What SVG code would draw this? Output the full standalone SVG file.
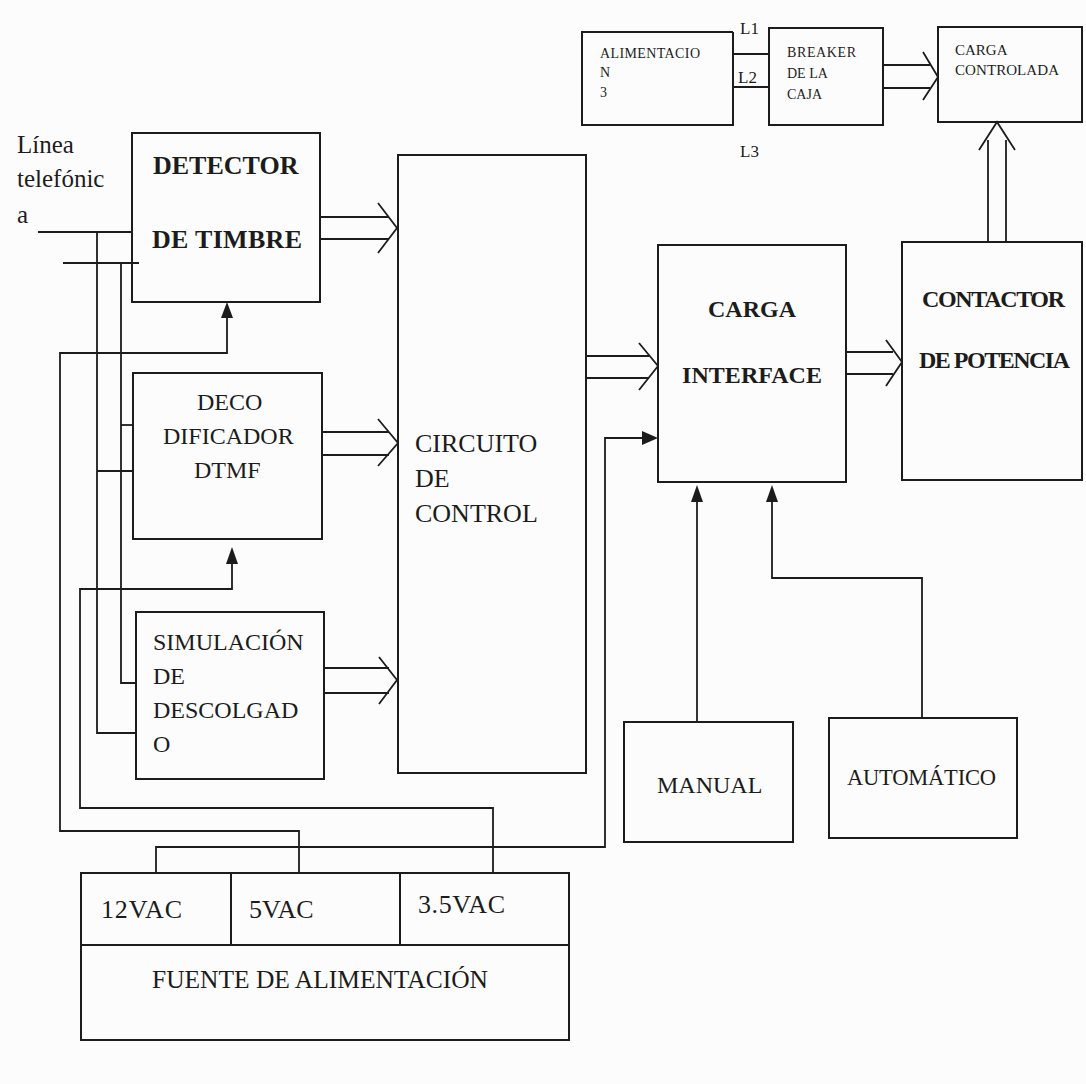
<svg xmlns="http://www.w3.org/2000/svg" width="1086" height="1084" viewBox="0 0 1086 1084">
<defs>
<style>
.box{fill:none;stroke:#1c1c1c;stroke-width:2}
.w{fill:none;stroke:#1c1c1c;stroke-width:1.8}
.t{font-family:"Liberation Serif","Times New Roman",serif;fill:#1c1c1c;font-size:24px}
.b{font-weight:bold}
.s{font-size:14px}
.m{font-size:26px}
.l{font-size:17px}
.head{fill:#1c1c1c;stroke:none}
</style>
</defs>
<rect x="0" y="0" width="1086" height="1084" fill="#fcfcfc"/>

<g id="alimentacion3">
<path class="box" d="M733,32 H582 V125 H733 V32"/>
<text class="t s" x="600" y="58" textLength="100">ALIMENTACIO</text>
<text class="t s" x="600" y="77">N</text>
<text class="t s" x="600" y="97">3</text>
</g>
<g id="breaker">
<rect class="box" x="769" y="28" width="114" height="97"/>
<text class="t s" x="787" y="57" textLength="69">BREAKER</text>
<text class="t s" x="787" y="78">DE LA</text>
<text class="t s" x="787" y="99">CAJA</text>
</g>
<g id="carga-controlada">
<rect class="box" x="938" y="27" width="144" height="95"/>
<text class="t s" x="955" y="55" style="font-size:15px">CARGA</text>
<text class="t s" x="955" y="75" style="font-size:15px" textLength="104">CONTROLADA</text>
</g>
<g id="linea">
<text class="t" x="17" y="153" style="font-size:25px">Línea</text>
<text class="t" x="17" y="187" style="font-size:25px">telefónic</text>
<text class="t" x="17" y="223" style="font-size:25px">a</text>
</g>
<g id="detector">
<rect class="box" x="132" y="133" width="188" height="169"/>
<text class="t b" x="153" y="174" style="font-size:26px">DETECTOR</text>
<text class="t b" x="152" y="248" style="font-size:26px" textLength="150">DE TIMBRE</text>
</g>
<g id="decodificador">
<rect class="box" x="133" y="373" width="189" height="166"/>
<text class="t" x="197" y="410">DECO</text>
<text class="t" x="163" y="444">DIFICADOR</text>
<text class="t" x="194" y="478">DTMF</text>
</g>
<g id="simulacion">
<rect class="box" x="136" y="612" width="188" height="167"/>
<text class="t" x="153" y="650">SIMULACIÓN</text>
<text class="t" x="153" y="684">DE</text>
<text class="t" x="153" y="718">DESCOLGAD</text>
<text class="t" x="153" y="752">O</text>
</g>
<g id="circuito">
<rect class="box" x="398" y="155" width="188" height="618"/>
<text class="t m" x="415" y="452">CIRCUITO</text>
<text class="t m" x="415" y="487">DE</text>
<text class="t m" x="415" y="522">CONTROL</text>
</g>
<g id="interface">
<rect class="box" x="658" y="245" width="188" height="237"/>
<text class="t b" x="708" y="317">CARGA</text>
<text class="t b" x="682" y="383" textLength="140">INTERFACE</text>
</g>
<g id="contactor">
<rect class="box" x="902" y="242" width="180" height="238"/>
<text class="t b" x="922" y="307" textLength="143">CONTACTOR</text>
<text class="t b" x="919" y="368" textLength="151">DE POTENCIA</text>
</g>
<g id="manual">
<rect class="box" x="624" y="722" width="169" height="120"/>
<text class="t" x="657" y="793">MANUAL</text>
</g>
<g id="automatico">
<rect class="box" x="829" y="718" width="188" height="120"/>
<text class="t" x="847" y="785" style="font-size:22.5px" textLength="149">AUTOMÁTICO</text>
</g>
<g id="fuente">
<rect class="box" x="81" y="873" width="488" height="167"/>
<line class="box" x1="81" y1="945" x2="569" y2="945"/>
<line class="box" x1="231" y1="873" x2="231" y2="945"/>
<line class="box" x1="400" y1="873" x2="400" y2="945"/>
<text class="t m" x="101" y="918" textLength="81">12VAC</text>
<text class="t m" x="249" y="918">5VAC</text>
<text class="t m" x="418" y="913" textLength="87">3.5VAC</text>
<text class="t" x="152" y="988" style="font-size:25.5px" textLength="336">FUENTE DE ALIMENTACIÓN</text>
</g>

<g id="connectors">
<line class="w" x1="733" y1="54" x2="769" y2="54"/>
<line class="w" x1="733" y1="87" x2="769" y2="87"/>
<text class="t l" x="740" y="34">L1</text>
<text class="t l" x="738" y="83">L2</text>
<text class="t l" x="740" y="157">L3</text>
<path class="w" d="M883,65 H930 M883,88 H930 M923,52 L938,77 L923,100"/>
<path class="w" d="M988,242 V140 M1006,242 V140 M979,150 L997,122 L1015,150"/>
<path class="w" d="M320,217 H389 M320,239 H389 M378,203 L397,228 L378,253"/>
<path class="w" d="M322,432 H389 M322,455 H389 M378,419 L398,443 L378,466"/>
<path class="w" d="M324,668 H389 M324,693 H389 M379,657 L397,680 L379,704"/>
<path class="w" d="M586,356 H649 M586,378 H649 M639,343 L658,366 L639,390"/>
<path class="w" d="M846,352 H893 M846,374 H893 M886,340 L902,362 L886,386"/>
<line class="w" x1="38" y1="232" x2="132" y2="232"/>
<line class="w" x1="63" y1="263" x2="139" y2="263"/>
<path class="w" d="M97,232 V733 H136"/>
<path class="w" d="M97,471 H133"/>
<path class="w" d="M121,263 V683 H136"/>
<path class="w" d="M121,425 H133"/>
<path class="w" d="M227,316 V353 H60 V831 H299 V873"/>
<polygon class="head" points="227,302 221,318 233,318"/>
<path class="w" d="M232,562 V589 H80 V808 H493 V873"/>
<polygon class="head" points="232,547 226,564 238,564"/>
<path class="w" d="M156,873 V847 H605 V438 H645"/>
<polygon class="head" points="658,438 642,431 642,445"/>
<path class="w" d="M697,722 V500"/>
<polygon class="head" points="697,485 691,502 703,502"/>
<path class="w" d="M922,718 V578 H772 V500"/>
<polygon class="head" points="772,485 766,502 778,502"/>
</g>
</svg>
